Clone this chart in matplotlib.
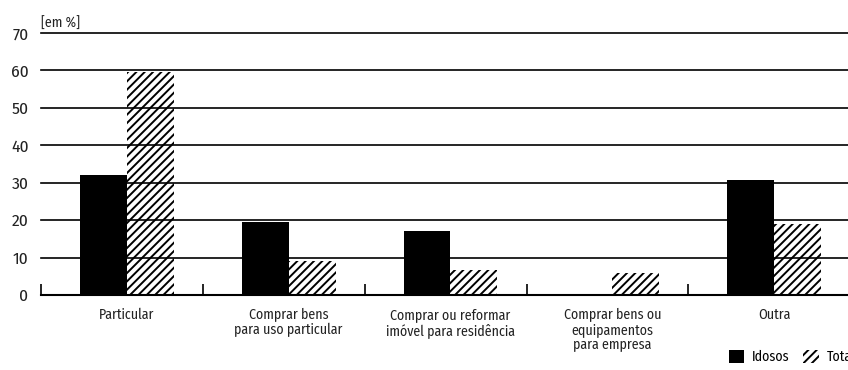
import matplotlib
matplotlib.use("Agg")
import matplotlib.pyplot as plt
from matplotlib.patches import Patch
import numpy as np
import logging
logging.getLogger('matplotlib.font_manager').setLevel(logging.ERROR)

plt.rcParams['font.family'] = ['Fira Sans Condensed', 'Roboto Condensed', 'Asap Condensed',
                               'Archivo Narrow', 'DejaVu Sans']
plt.rcParams['font.weight'] = 'normal'
plt.rcParams['hatch.linewidth'] = 1.4

categories = ["Particular", "Comprar bens\npara uso particular",
              "Comprar ou reformar\nimóvel para residência",
              "Comprar bens ou\nequipamentos\npara empresa", "Outra"]
idosos = [32.0, 19.5, 17.1, 0.0, 30.7]
total = [59.6, 9.1, 6.7, 5.8, 19.0]
series_names = ["Idosos", "Total"]
yticks = [0, 10, 20, 30, 40, 50, 60, 70]

fig = plt.figure(figsize=(8.48, 3.70), dpi=100)
ax = fig.add_axes([41/848, 1-295/370, 1-41/848, (295-33)/370])

x = np.arange(len(categories))
w = 0.29
ax.bar(x - w/2, idosos, width=w, color='black', edgecolor='black', linewidth=0, zorder=3)
ax.bar(x + w/2, total, width=w, facecolor='none', edgecolor='black', hatch='////', linewidth=0, zorder=1)

ax.set_xlim(-0.53, (848-127)/161.8)
ax.set_ylim(0, 70)
ax.set_yticks(yticks)
ax.set_yticklabels([str(v) for v in yticks], fontsize=12.5, color='#222222')
ax.tick_params(axis='y', length=0, pad=9)
ax.yaxis.grid(True, color='black', linewidth=1.2, zorder=2)
for gl in ax.get_ygridlines():
    gl.set_clip_on(False)
ax.set_axisbelow(False)
for s in ['left', 'right', 'top']:
    ax.spines[s].set_visible(False)
ax.spines['bottom'].set_linewidth(1.5)
ax.spines['bottom'].set_zorder(5)

ax.set_xticks(x)
ax.set_xticklabels(categories, fontsize=10, color='#222222', linespacing=1.1, va='top')
ax.tick_params(axis='x', which='major', length=0, pad=9)
ax.set_xticks(x - 0.53, minor=True)
ax.tick_params(axis='x', which='minor', length=8, width=1.2, direction='in', color='black')

ax.text(0.0, 1.008, "[em %]", transform=ax.transAxes, fontsize=10, ha='left', va='bottom', color='#222222')

handles = [Patch(facecolor='black', edgecolor='black', linewidth=0),
           Patch(facecolor='white', edgecolor='black', hatch='////', linewidth=0)]
fig.legend(handles, series_names, loc='upper left', bbox_to_anchor=(729/848, 1-350/370),
           ncol=2, frameon=False, fontsize=10, handlelength=1.1, handleheight=1.1,
           handletextpad=0.55, columnspacing=1.0, borderpad=0, borderaxespad=0)

fig.savefig("out.png", dpi=100)
